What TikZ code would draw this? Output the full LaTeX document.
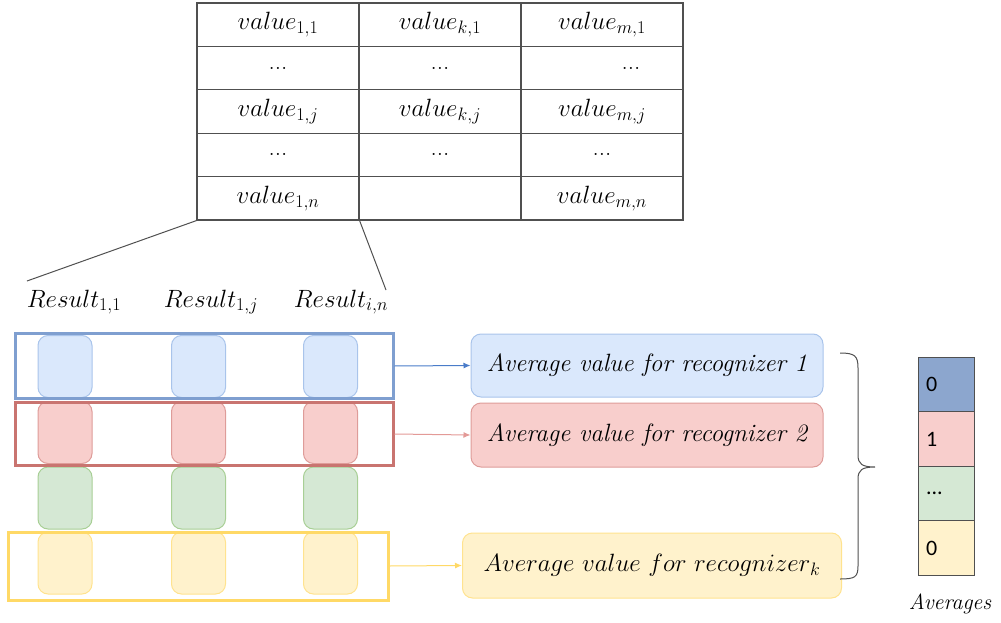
\RequirePackage{fix-cm}
\documentclass[tikz,border=0pt]{standalone}
\usepackage{fontspec}
\newfontfamily\numfont{Carlito}
\newcommand\subx[1]{_{\mbox{\fontsize{18}{20}\selectfont$#1$}}}
\usetikzlibrary{arrows.meta}
\definecolor{tgray}{HTML}{505050}
\definecolor{bfill}{HTML}{DAE8FC}\definecolor{bline}{HTML}{A9C4EB}\definecolor{bframe}{HTML}{7F9FD0}\definecolor{barrow}{HTML}{4A7CC9}
\definecolor{rfill}{HTML}{F8CECC}\definecolor{rline}{HTML}{DE9C99}\definecolor{rframe}{HTML}{C97470}\definecolor{rarrow}{HTML}{E39A97}
\definecolor{gfill}{HTML}{D5E8D4}\definecolor{gline}{HTML}{A8CF95}
\definecolor{yfill}{HTML}{FFF2CC}\definecolor{yline}{HTML}{FFE38F}\definecolor{yframe}{HTML}{FFD966}
\definecolor{dblue}{HTML}{8CA6CE}
\tikzset{
  cell/.style={draw=tgray, line width=1.2pt, minimum width=162pt, minimum height=43.4pt, inner sep=0pt, font=\fontsize{25}{28}\selectfont},
  res/.style={inner sep=0pt, font=\fontsize{25}{28}\selectfont},
  small/.style={rounded corners=10pt, line width=1pt, minimum width=54pt, minimum height=62pt, inner sep=0pt},
  frame/.style={line width=3pt, inner sep=0pt},
  avg/.style={rounded corners=10pt, line width=1pt, inner sep=0pt, font=\fontsize{25}{28}\selectfont\itshape},
  acell/.style={draw=tgray, line width=0.8pt, minimum width=56pt, minimum height=54.5pt, text width=40pt, align=left, inner sep=0pt, font=\fontsize{22}{24}\numfont},
  conn/.style={line width=1pt, -{Latex[length=7pt,width=6pt]}},
}
\begin{document}
\begin{tikzpicture}[x=1pt,y=-1pt]
\useasboundingbox (0,0) rectangle (1001,623);
% table
\node[cell] (c11) at (278,24.7) {$value\subx{1{,}1}$};
\node[cell] (c21) at (440,24.7) {$value\subx{k{,}1}$};
\node[cell] (c31) at (602,24.7) {$value\subx{m{,}1}$};
\node[cell] (c12) at (278,68.1) {...};
\node[cell] (c22) at (440,68.1) {...};
\node[cell] (c32) at (602,68.1) {\hspace*{58pt}...};
\node[cell] (c13) at (278,111.5) {$value\subx{1{,}j}$};
\node[cell] (c23) at (440,111.5) {$value\subx{k{,}j}$};
\node[cell] (c33) at (602,111.5) {$value\subx{m{,}j}$};
\node[cell] (c14) at (278,154.9) {...};
\node[cell] (c24) at (440,154.9) {...};
\node[cell] (c34) at (602,154.9) {...};
\node[cell] (c15) at (278,198.3) {$value\subx{1{,}n}$};
\node[cell] (c25) at (440,198.3) {};
\node[cell] (c35) at (602,198.3) {$value\subx{m{,}n}$};
% zoom lines
\coordinate (zl) at (27,281);
\coordinate (zr) at (386,290);
\draw[line width=1pt, tgray] (c15.south west) -- (zl);
\draw[line width=1pt, tgray] (c15.south east) -- (zr);
% result labels
\node[res] (r1) at (74,302) {$Result\subx{1{,}1}$};
\node[res] (r2) at (211,302) {$Result\subx{1{,}j}$};
\node[res] (r3) at (341,302) {$Result\subx{i{,}n}$};
% small boxes
\foreach \x/\n in {65/1,198.5/2,330.5/3}{
  \node[small, fill=bfill, draw=bline] (sb\n) at (\x,366.5) {};
  \node[small, fill=rfill, draw=rline] (sr\n) at (\x,432.5) {};
  \node[small, fill=gfill, draw=gline] (sg\n) at (\x,498) {};
  \node[small, fill=yfill, draw=yline] (sy\n) at (\x,563) {};
}
% frames
\node[frame, draw=bframe, minimum width=378pt, minimum height=65pt] (fb) at (204,366) {};
\node[frame, draw=rframe, minimum width=378pt, minimum height=63pt] (fr) at (204,434) {};
\node[frame, draw=yframe, minimum width=380pt, minimum height=68pt] (fy) at (198,566) {};
% average boxes
\node[avg, fill=bfill, draw=bline, minimum width=352pt, minimum height=63pt] (a1) at (647,365.5) {Average value for recognizer 1};
\node[avg, fill=rfill, draw=rline, minimum width=352pt, minimum height=64pt] (a2) at (647,435) {Average value for recognizer 2};
\node[avg, fill=yfill, draw=yline, minimum width=379pt, minimum height=65pt, font=\fontsize{25}{28}\selectfont] (a3) at (652,565.5) {$Average\ value\ for\ recognizer\subx{k}$};
\draw[conn, barrow] (fb.east) -- (a1.west);
\draw[conn, rarrow] (fr.east) -- (a2.west);
\draw[conn, yframe] (fy.east) -- (a3.west);
% brace
\draw[line width=1pt, tgray] (840,353) .. controls (855,353) and (858,356) .. (858,368) -- (858,455) .. controls (858,464) and (862,467) .. (875,467) .. controls (862,467) and (858,470) .. (858,479) -- (858,566) .. controls (858,577) and (855,579) .. (840,579);
% averages column
\node[acell, fill=dblue] (v1) at (946,384.5) {0};
\node[acell, fill=rfill] (v2) at (946,439) {1};
\node[acell, fill=gfill] (v3) at (946,493.5) {...};
\node[acell, fill=yfill] (v4) at (946,548) {0};
\node[font=\fontsize{22}{24}\selectfont\itshape, inner sep=0pt] (lab) at (950,604) {Averages};
\end{tikzpicture}
\end{document}
